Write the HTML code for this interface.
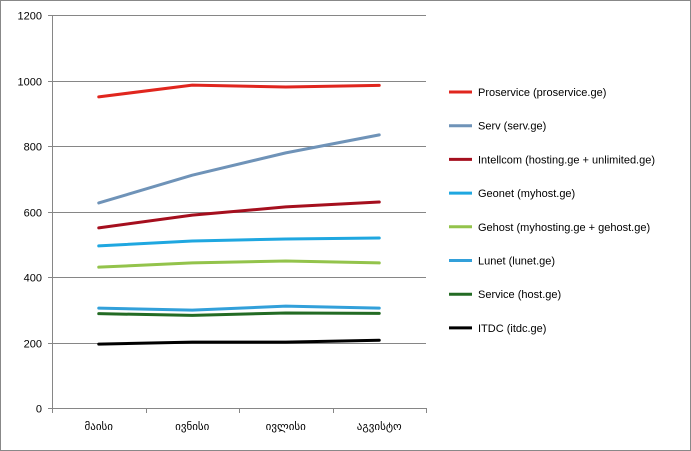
<!DOCTYPE html>
<html><head><meta charset="utf-8"><style>
body{margin:0;background:#fff;}
svg{display:block;font-family:"Liberation Sans","DejaVu Sans",sans-serif;}
</style></head><body>
<svg id="chart" width="691" height="451" viewBox="0 0 691 451" xmlns="http://www.w3.org/2000/svg">
<rect x="0.5" y="0.5" width="690" height="450" fill="#fff" stroke="#888"/>
<g id="grid"></g><g id="axes"></g><g id="series"></g><g id="legend"></g>
</svg>
<script>
const categories=["მაისი","ივნისი","ივლისი","აგვისტო"];
const yTicks=[0,200,400,600,800,1000,1200];
const seriesNames=["Proservice (proservice.ge)","Serv (serv.ge)","Intellcom (hosting.ge + unlimited.ge)","Geonet (myhost.ge)","Gehost (myhosting.ge  + gehost.ge)","Lunet (lunet.ge)","Service (host.ge)","ITDC (itdc.ge)"];
const seriesColors=["#e0261e","#6f93b8","#a50f1e","#1fa7e0","#93c34b","#32a0da","#236b24","#000000"];
const proserv=[950,986,980,985];
const serv=[626,711,779,834];
const intellcom=[550,589,614,629];
const geonet=[495,510,516,519];
const gehost=[430,443,449,443];
const lunet=[305,299,311,305];
const service=[288,283,290,289];
const itdc=[195,201,201,207];
const seriesValues=[proserv,serv,intellcom,geonet,gehost,lunet,service,itdc];

const NS="http://www.w3.org/2000/svg";
const X0=52,X1=426,Y0=408,Y1=15,YMAX=1200;
const y=v=>Y0-(v/YMAX)*(Y0-Y1);
const bw=(X1-X0)/categories.length;
const x=i=>X0+bw*(i+0.5);
function mk(tag,attrs,parent){const e=document.createElementNS(NS,tag);for(const k in attrs)e.setAttribute(k,attrs[k]);parent.appendChild(e);return e;}
const grid=document.getElementById('grid'),axes=document.getElementById('axes'),ser=document.getElementById('series'),leg=document.getElementById('legend');
yTicks.forEach(t=>{
  const yy=Math.round(y(t))+0.5;
  if(t>0){const g=mk('line',{x1:X0,x2:X1,y1:yy,y2:yy,stroke:'#868686','stroke-width':1},grid);
  
  }
  mk('line',{x1:X0-4,x2:X0,y1:yy,y2:yy,stroke:'#868686'},axes);
  const tx=mk('text',{x:X0-10,y:yy+4,'text-anchor':'end','font-size':11,fill:'#000'},axes);
  tx.textContent=t;
  
  
});
const ya=mk('line',{x1:X0+0.5,x2:X0+0.5,y1:Y1,y2:Y0,stroke:'#868686'},axes);


const xa=mk('line',{x1:X0,x2:X1,y1:Y0+0.5,y2:Y0+0.5,stroke:'#868686'},axes);


for(let i=0;i<=categories.length;i++){const xx=Math.round(X0+bw*i)+0.5;mk('line',{x1:xx,x2:xx,y1:Y0,y2:Y0+5,stroke:'#868686'},axes);}
categories.forEach((c,i)=>{
  const t=mk('text',{x:x(i),y:Y0+22,'text-anchor':'middle','font-size':11,fill:'#000'},axes);
  t.textContent=c;
  
  
});
seriesValues.forEach((vals,s)=>{
  const p=mk('polyline',{points:vals.map((v,i)=>x(i)+','+y(v)).join(' '),fill:'none',stroke:seriesColors[s],'stroke-width':3,'stroke-linejoin':'round','stroke-linecap':'round'},ser);
  
  
});
seriesNames.forEach((n,s)=>{
  const ly=92+s*33.7;
  const g=mk('g',{},leg);
  
  
  mk('line',{x1:449,x2:472,y1:ly,y2:ly,stroke:seriesColors[s],'stroke-width':3},g);
  const t=mk('text',{x:478,y:ly+4,'font-size':11,fill:'#000'},g);
  t.textContent=n;
});
</script>
</body></html>
